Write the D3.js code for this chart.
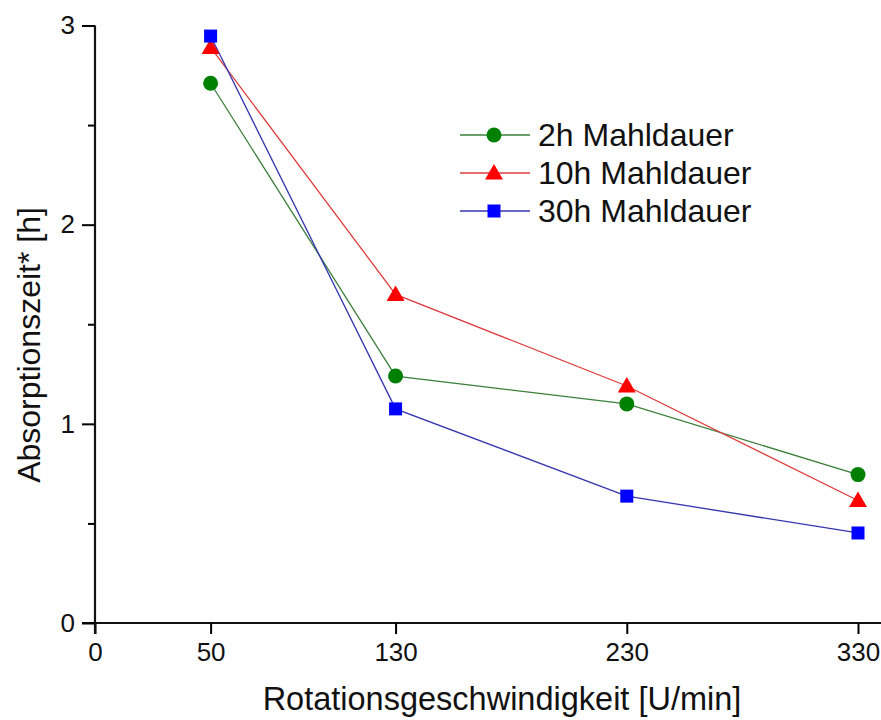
<!DOCTYPE html>
<html>
<head>
<meta charset="utf-8">
<script src="https://cdn.jsdelivr.net/npm/d3@7"></script>
<style>
  body { margin: 0; background: #fff; }
  svg { display: block; font-family: "Liberation Sans", Arial, sans-serif; }
</style>
</head>
<body>
<svg id="chart" width="881" height="720"></svg>
<script>
const speeds = [50, 130, 230, 330];
const xTicks = [0, 50, 130, 230, 330];
const yTicks = [0, 1, 2, 3];
const yMinorTicks = [0.5, 1.5, 2.5];
const seriesNames = ["2h Mahldauer", "10h Mahldauer", "30h Mahldauer"];
const values2h = [2.71, 1.24, 1.10, 0.745];
const values10h = [2.89, 1.65, 1.19, 0.615];
const values30h = [2.947, 1.075, 0.637, 0.452];
const xTitle = "Rotationsgeschwindigkeit [U/min]";
const yTitle = "Absorptionszeit* [h]";

const series = [
  { name: seriesNames[0], values: values2h, marker: "circle", fill: "#008000", line: "#3a7f3a" },
  { name: seriesNames[1], values: values10h, marker: "triangle", fill: "#ff0000", line: "#e03c3c" },
  { name: seriesNames[2], values: values30h, marker: "square", fill: "#0000ff", line: "#3535b0" }
];

const svg = d3.select("#chart");
const x = d3.scaleLinear().domain([0, 330]).range([95, 858]);
const y = d3.scaleLinear().domain([0, 3]).range([623, 25.5]);

// axes
const xAxis = svg.append("g").attr("transform", `translate(0,${y(0)})`)
  .call(d3.axisBottom(x).tickValues(xTicks).tickSize(11).tickSizeOuter(0).tickPadding(9));
xAxis.select(".domain").attr("d", `M${x(0) - 13},0H881`);
xAxis.selectAll("line").attr("stroke-width", 2);
xAxis.selectAll("text").attr("font-size", 26).attr("fill", "#111");

const yAxis = svg.append("g").attr("transform", `translate(${x(0)},0)`)
  .call(d3.axisLeft(y).tickValues(yTicks).tickFormat(d3.format("d")).tickSize(13).tickSizeOuter(0).tickPadding(7));
yAxis.select(".domain").attr("d", `M0,${y(3)}V${y(0) + 11}`);
yAxis.selectAll("line").attr("stroke-width", 2);
yAxis.selectAll("text").attr("font-size", 26).attr("fill", "#111");

svg.append("g").attr("transform", `translate(${x(0)},0)`)
  .call(d3.axisLeft(y).tickValues(yMinorTicks).tickSize(7).tickFormat(""))
  .call(g => g.select(".domain").remove())
  .selectAll("line").attr("stroke-width", 2);

svg.selectAll(".domain").attr("stroke-width", 2.2).attr("stroke", "#111");

// titles
svg.append("text").attr("x", 502).attr("y", 710).attr("text-anchor", "middle")
  .attr("font-size", 32.5).attr("fill", "#111").text(xTitle);
svg.append("text").attr("transform", `translate(40,${345}) rotate(-90)`).attr("text-anchor", "middle")
  .attr("font-size", 32).attr("fill", "#111").text(yTitle);

function drawMarker(g, type, color) {
  if (type === "circle") {
    g.append("circle").attr("r", 7.5).attr("fill", color);
  } else if (type === "triangle") {
    g.append("path").attr("d", "M0,-9L9,6.5L-9,6.5Z").attr("fill", color);
  } else {
    g.append("rect").attr("x", -6.5).attr("y", -6.5).attr("width", 13).attr("height", 13).attr("fill", color);
  }
}

const line = d3.line().x((d, i) => x(speeds[i])).y(d => y(d));

series.forEach(s => {
  svg.append("path").datum(s.values).attr("d", line)
    .attr("fill", "none").attr("stroke", s.line).attr("stroke-width", 1.3);
});
series.forEach(s => {
  s.values.forEach((v, i) => {
    const g = svg.append("g").attr("transform", `translate(${x(speeds[i])},${y(v)})`);
    drawMarker(g, s.marker, s.fill);
  });
});

// legend
series.forEach((s, i) => {
  const ly = 135 + i * 38;
  svg.append("line").attr("x1", 460).attr("x2", 530).attr("y1", ly).attr("y2", ly)
    .attr("stroke", s.line).attr("stroke-width", 1.3);
  const g = svg.append("g").attr("transform", `translate(494,${ly})`);
  drawMarker(g, s.marker, s.fill);
  svg.append("text").attr("x", 538).attr("y", ly + 11).attr("font-size", 32)
    .attr("fill", "#111").text(s.name);
});
</script>
</body>
</html>
